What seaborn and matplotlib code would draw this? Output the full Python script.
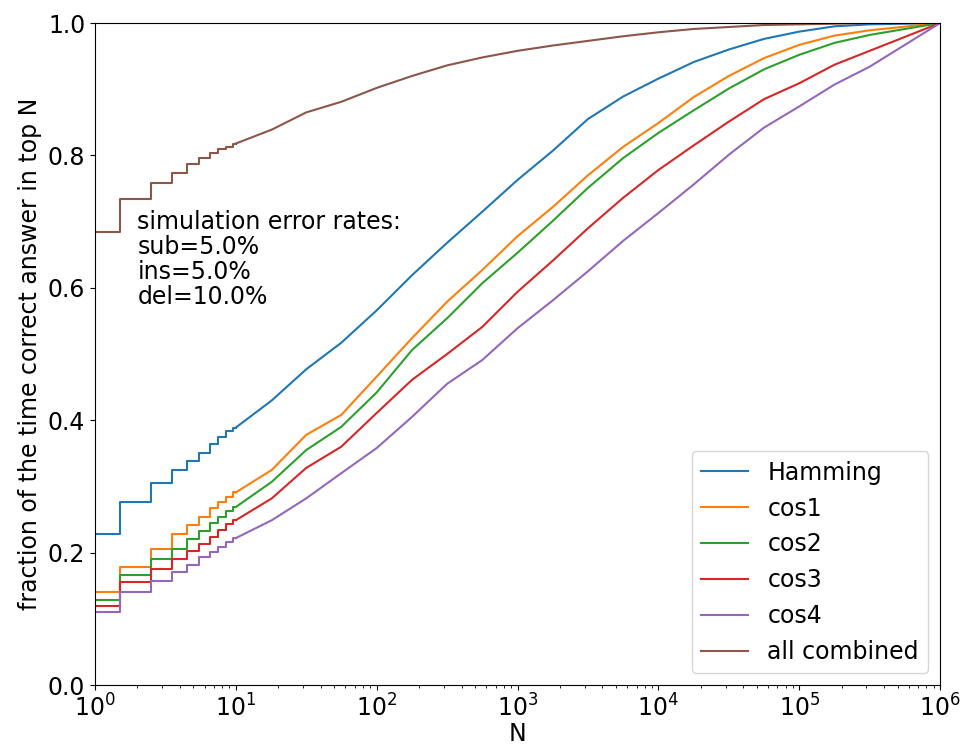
import pandas as pd
import seaborn as sns
import matplotlib
matplotlib.use('Agg')
import matplotlib.pyplot as plt

methods = ['Hamming', 'cos1', 'cos2', 'cos3', 'cos4', 'all combined']

# small N: one value per integer rank, drawn as steps
n_small = [1, 2, 3, 4, 5, 6, 7, 8, 9, 10]
hamming_small = [0.228, 0.277, 0.305, 0.325, 0.338, 0.351, 0.364, 0.374, 0.383, 0.389]
cos1_small = [0.140, 0.178, 0.205, 0.228, 0.242, 0.254, 0.267, 0.277, 0.284, 0.291]
cos2_small = [0.128, 0.166, 0.190, 0.206, 0.221, 0.233, 0.244, 0.254, 0.263, 0.269]
cos3_small = [0.120, 0.155, 0.175, 0.190, 0.202, 0.213, 0.224, 0.234, 0.243, 0.249]
cos4_small = [0.110, 0.140, 0.157, 0.171, 0.182, 0.193, 0.201, 0.209, 0.216, 0.222]
comb_small = [0.684, 0.734, 0.759, 0.774, 0.787, 0.796, 0.803, 0.809, 0.813, 0.818]

# large N: values
n_large = [10, 18, 31.6, 56, 100, 178, 316, 562, 1000, 1778, 3162, 5623, 1e4,
           17783, 31623, 56234, 1e5, 177828, 316228, 1e6]
hamming_large = [0.389, 0.430, 0.477, 0.517, 0.566, 0.619, 0.668, 0.715, 0.763, 0.807,
                 0.855, 0.889, 0.916, 0.941, 0.960, 0.976, 0.987, 0.995, 0.998, 1.0]
cos1_large = [0.291, 0.325, 0.378, 0.408, 0.466, 0.524, 0.579, 0.627, 0.678, 0.722,
              0.770, 0.813, 0.849, 0.888, 0.920, 0.947, 0.967, 0.981, 0.989, 1.0]
cos2_large = [0.269, 0.307, 0.355, 0.390, 0.442, 0.506, 0.554, 0.607, 0.653, 0.701,
              0.751, 0.796, 0.834, 0.868, 0.901, 0.930, 0.952, 0.970, 0.982, 1.0]
cos3_large = [0.249, 0.282, 0.328, 0.360, 0.411, 0.461, 0.500, 0.541, 0.594, 0.641,
              0.690, 0.736, 0.778, 0.815, 0.851, 0.885, 0.909, 0.937, 0.958, 1.0]
cos4_large = [0.222, 0.249, 0.282, 0.320, 0.358, 0.405, 0.455, 0.491, 0.539, 0.581,
              0.625, 0.671, 0.713, 0.756, 0.801, 0.842, 0.874, 0.907, 0.934, 1.0]
comb_large = [0.818, 0.839, 0.865, 0.881, 0.902, 0.920, 0.936, 0.948, 0.958, 0.966,
              0.973, 0.980, 0.986, 0.991, 0.994, 0.997, 0.998, 0.999, 1.0, 1.0]

small_vals = [hamming_small, cos1_small, cos2_small, cos3_small, cos4_small, comb_small]
large_vals = [hamming_large, cos1_large, cos2_large, cos3_large, cos4_large, comb_large]


def to_long(n, vals):
    frames = []
    for m, v in zip(methods, vals):
        frames.append(pd.DataFrame({'N': n, 'frac': v, 'method': m}))
    return pd.concat(frames, ignore_index=True)


df_small = to_long(n_small, small_vals)
df_large = to_long(n_large, large_vals)

plt.rcParams['font.size'] = 17
fig = plt.figure(figsize=(9.62, 7.45), dpi=100)
ax = fig.add_axes([0.0988, 0.0805, 0.8784, 0.8886])

palette = sns.color_palette('tab10', 6)
sns.lineplot(data=df_small, x='N', y='frac', hue='method', hue_order=methods,
             palette=palette, estimator=None, drawstyle='steps-mid',
             linewidth=1.5, legend=False, ax=ax)
sns.lineplot(data=df_large, x='N', y='frac', hue='method', hue_order=methods,
             palette=palette, estimator=None, linewidth=1.5, ax=ax)

ax.set_xscale('log')
ax.set_xlim(1, 1e6)
ax.set_ylim(0, 1)
ax.set_xlabel('N', labelpad=0)
ax.set_ylabel('fraction of the time correct answer in top N')

handles, labels = ax.get_legend_handles_labels()
ax.legend(handles, labels, loc='lower right')

ax.text(2.0, 0.718, 'simulation error rates:\nsub=5.0%\nins=5.0%\ndel=10.0%',
        va='top', ha='left', fontsize=17, linespacing=1.05)

fig.savefig('out.png', dpi=100)
